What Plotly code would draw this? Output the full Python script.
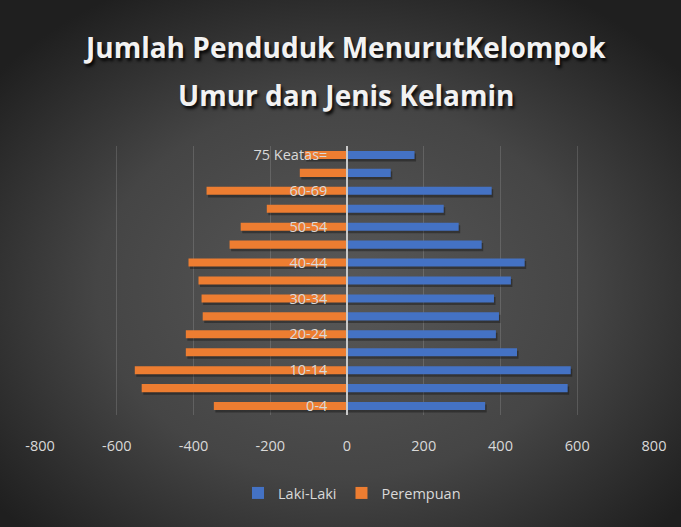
import base64
import plotly.graph_objects as go

# ---- data ----
age_groups = ["0-4", "5-9", "10-14", "15-19", "20-24", "25-29", "30-34", "35-39",
              "40-44", "45-49", "50-54", "55-59", "60-69", "70-74", "75 Keatas="]
laki_laki = [360, 575, 583, 443, 388, 396, 383, 427, 463, 351, 291, 252, 377, 114, 176]
perempuan = [347, 535, 553, 420, 420, 376, 379, 387, 413, 306, 277, 209, 366, 123, 110]
x_tick_vals = [-800, -600, -400, -200, 0, 200, 400, 600, 800]
x_tick_text = ["-800", "-600", "-400", "-200", "0", "200", "400", "600", "800"]
shown_age_labels = ["0-4", "10-14", "20-24", "30-34", "40-44", "50-54", "60-69", "75 Keatas="]

W, H = 681, 527
ML, MR, MT, MB = 40, 27, 146, 112
PW, PH = W - ML - MR, H - MT - MB

FONT = "Open Sans, sans-serif"
X_RANGE = [-800, 800]
Y_RANGE = [-0.5, len(age_groups) - 0.5]
SHADOW_DX, SHADOW_DY = 4, 0.14  # shadow offset in data units

svg = f'''<svg xmlns="http://www.w3.org/2000/svg" width="{W}" height="{H}" viewBox="0 0 {W} {H}" preserveAspectRatio="none">
<defs><radialGradient id="g" cx="50%" cy="55%" r="65%">
<stop offset="0" stop-color="#585858"/><stop offset="0.55" stop-color="#454545"/><stop offset="1" stop-color="#1f1f1f"/>
</radialGradient></defs>
<rect width="{W}" height="{H}" fill="url(#g)"/></svg>'''
bg_uri = "data:image/svg+xml;base64," + base64.b64encode(svg.encode()).decode()

fig = go.Figure()
# soft drop shadows (base axes, drawn underneath)
fig.add_trace(go.Bar(
    y=age_groups, x=laki_laki, orientation="h", showlegend=False, hoverinfo="skip",
    marker=dict(color="rgba(0,0,0,0.32)", line=dict(width=0)), xaxis="x", yaxis="y",
))
fig.add_trace(go.Bar(
    y=age_groups, x=[-v for v in perempuan], orientation="h", showlegend=False, hoverinfo="skip",
    marker=dict(color="rgba(0,0,0,0.32)", line=dict(width=0)), xaxis="x", yaxis="y",
))
# main bars (overlay axes)
fig.add_trace(go.Bar(
    y=age_groups, x=laki_laki, orientation="h", name="Laki-Laki",
    marker=dict(color="#4472C4", line=dict(width=0)), xaxis="x2", yaxis="y2",
))
fig.add_trace(go.Bar(
    y=age_groups, x=[-v for v in perempuan], orientation="h", name="Perempuan",
    marker=dict(color="#ED7D31", line=dict(width=0)), xaxis="x2", yaxis="y2",
))

title_font = dict(family=FONT, size=28, color="#f2f2f2",
                  shadow="2px 3px 3px rgba(0,0,0,0.85)")

fig.update_layout(
    width=W, height=H, autosize=False,
    margin=dict(l=ML, r=MR, t=MT, b=MB, pad=0),
    paper_bgcolor="#333333", plot_bgcolor="rgba(0,0,0,0)",
    barmode="relative", bargap=0.55,
    showlegend=True,
    legend=dict(orientation="h", x=(238 - ML) / PW, xanchor="left", y=-0.29, yanchor="middle",
                font=dict(family=FONT, size=14.5, color="#d9d9d9"),
                itemwidth=30,
                bgcolor="rgba(0,0,0,0)", traceorder="normal"),
    images=[dict(source=bg_uri, xref="paper", yref="paper",
                 x=-ML / PW, y=1 + MT / PH, sizex=W / PW, sizey=H / PH,
                 xanchor="left", yanchor="top", sizing="stretch", layer="below")],
    annotations=[
        dict(text="<b>Jumlah Penduduk MenurutKelompok</b>", xref="paper", yref="paper",
             x=(344 - ML) / PW, y=1 + (MT - 47) / PH, xanchor="center", yanchor="middle",
             showarrow=False, font=title_font),
        dict(text="<b>Umur dan Jenis Kelamin</b>", xref="paper", yref="paper",
             x=(346 - ML) / PW, y=1 + (MT - 95) / PH, xanchor="center", yanchor="middle",
             showarrow=False, font=title_font),
    ],
    xaxis=dict(
        range=[X_RANGE[0] - SHADOW_DX, X_RANGE[1] - SHADOW_DX],
        showgrid=False, zeroline=False, showline=False, showticklabels=False, ticks="",
    ),
    yaxis=dict(
        type="category", categoryorder="array", categoryarray=age_groups,
        range=[Y_RANGE[0] + SHADOW_DY, Y_RANGE[1] + SHADOW_DY],
        visible=False,
    ),
    xaxis2=dict(
        overlaying="x", anchor="y2",
        range=X_RANGE, tickvals=x_tick_vals, ticktext=x_tick_text,
        showgrid=True, gridcolor="rgba(255,255,255,0.14)", gridwidth=1,
        zeroline=False, showline=False, ticks="",
        tickfont=dict(family=FONT, size=14.5, color="#d9d9d9"),
        ticklabelstandoff=20,
    ),
    yaxis2=dict(
        overlaying="y", anchor="free", position=0.5,
        type="category", categoryorder="array", categoryarray=age_groups,
        range=Y_RANGE,
        showline=True, linecolor="#c9c9c9", linewidth=1.5, layer="above traces",
        showgrid=False, zeroline=False, ticks="",
        tickvals=shown_age_labels, ticktext=shown_age_labels,
        tickfont=dict(family=FONT, size=14.5, color="#d9d9d9"),
        ticklabelstandoff=16,
    ),
)

fig.write_html(
    "out.html",
    config={"displayModeBar": False},
    post_script="document.body.style.margin='0';document.body.style.overflow='hidden';",
)
